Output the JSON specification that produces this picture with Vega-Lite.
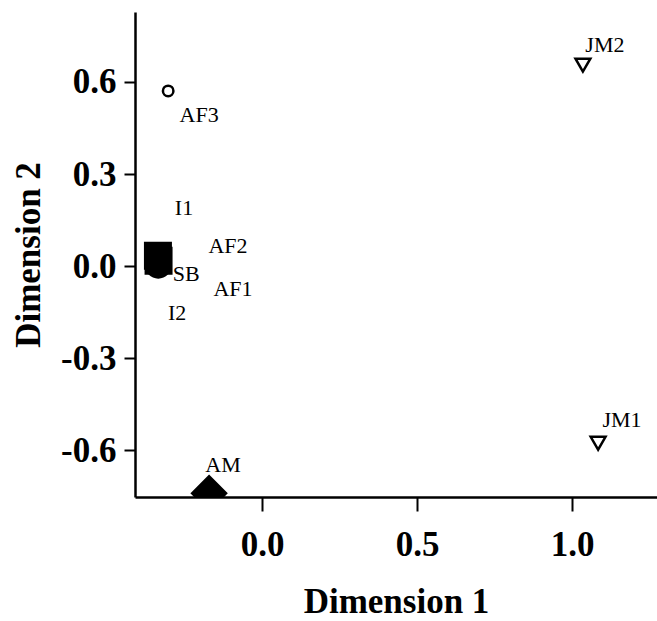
{
  "$schema": "https://vega.github.io/schema/vega-lite/v6.json",
  "width": 522,
  "height": 485,
  "autosize": {"type": "none"},
  "padding": {"left": 135, "top": 12, "right": 0, "bottom": 124},
  "background": "white",
  "config": {
    "view": {"stroke": null},
    "font": "Liberation Serif",
    "axis": {
      "grid": false,
      "domainColor": "black",
      "domainWidth": 2.5,
      "tickColor": "black",
      "tickWidth": 2,
      "labelFont": "Liberation Serif",
      "labelFontWeight": "bold",
      "labelColor": "black",
      "labelFontSize": 35,
      "titleFont": "Liberation Serif",
      "titleFontWeight": "bold",
      "titleColor": "black",
      "titleFontSize": 35
    }
  },
  "datasets": {
    "points": [
      {"label": "AF3", "group": "AF", "x": -0.303, "y": 0.571},
      {"label": "AF1", "group": "AF", "x": -0.329, "y": -0.012},
      {"label": "AF2", "group": "AF", "x": -0.329, "y": -0.01},
      {"label": "SB", "group": "SB", "x": -0.335, "y": 0.004},
      {"label": "I1", "group": "I", "x": -0.336, "y": 0.034},
      {"label": "I2", "group": "I", "x": -0.334, "y": 0.018},
      {"label": "AM", "group": "AM", "x": -0.171, "y": -0.74},
      {"label": "JM2", "group": "JM", "x": 1.035, "y": 0.655},
      {"label": "JM1", "group": "JM", "x": 1.084, "y": -0.577}
    ],
    "labels": [
      {"label": "AF3", "x": -0.203, "y": 0.493},
      {"label": "I1", "x": -0.252, "y": 0.189},
      {"label": "AF2", "x": -0.11, "y": 0.065},
      {"label": "SB", "x": -0.245, "y": -0.026},
      {"label": "AF1", "x": -0.094, "y": -0.075},
      {"label": "I2", "x": -0.274, "y": -0.153},
      {"label": "AM", "x": -0.126, "y": -0.648},
      {"label": "JM2", "x": 1.106, "y": 0.72},
      {"label": "JM1", "x": 1.161, "y": -0.502}
    ]
  },
  "layer": [
    {
      "data": {"name": "points"},
      "mark": {"type": "point", "filled": true, "stroke": "black", "strokeWidth": 2.5, "opacity": 1, "clip": true},
      "encoding": {
        "x": {
          "field": "x", "type": "quantitative",
          "scale": {"domain": [-0.41, 1.274], "nice": false, "zero": false},
          "axis": {"title": "Dimension 1", "values": [0, 0.5, 1.0], "labelExpr": "replace(format(datum.value, '.1f'), '\u2212', '-')", "tickSize": 14, "labelPadding": 16, "titlePadding": 22}
        },
        "y": {
          "field": "y", "type": "quantitative",
          "scale": {"domain": [-0.752, 0.828], "nice": false, "zero": false},
          "axis": {"title": "Dimension 2", "values": [-0.6, -0.3, 0, 0.3, 0.6], "labelExpr": "replace(format(datum.value, '.1f'), '\u2212', '-')", "tickSize": 11, "labelPadding": 8, "titlePadding": 14}
        },
        "shape": {
          "field": "group", "type": "nominal", "legend": null,
          "scale": {"domain": ["AF", "I", "SB", "AM", "JM"], "range": ["circle", "square", "circle", "diamond", "triangle-down"]}
        },
        "fill": {
          "field": "group", "type": "nominal", "legend": null,
          "scale": {"domain": ["AF", "I", "SB", "AM", "JM"], "range": ["white", "black", "black", "black", "white"]}
        },
        "size": {
          "field": "group", "type": "nominal", "legend": null,
          "scale": {"type": "ordinal", "domain": ["AF", "I", "SB", "AM", "JM"], "range": [110, 650, 620, 1150, 220]}
        }
      }
    },
    {
      "data": {"name": "labels"},
      "mark": {"type": "text", "font": "Liberation Serif", "fontSize": 22, "color": "black", "align": "center", "baseline": "middle"},
      "encoding": {
        "x": {"field": "x", "type": "quantitative"},
        "y": {"field": "y", "type": "quantitative"},
        "text": {"field": "label"}
      }
    }
  ]
}
